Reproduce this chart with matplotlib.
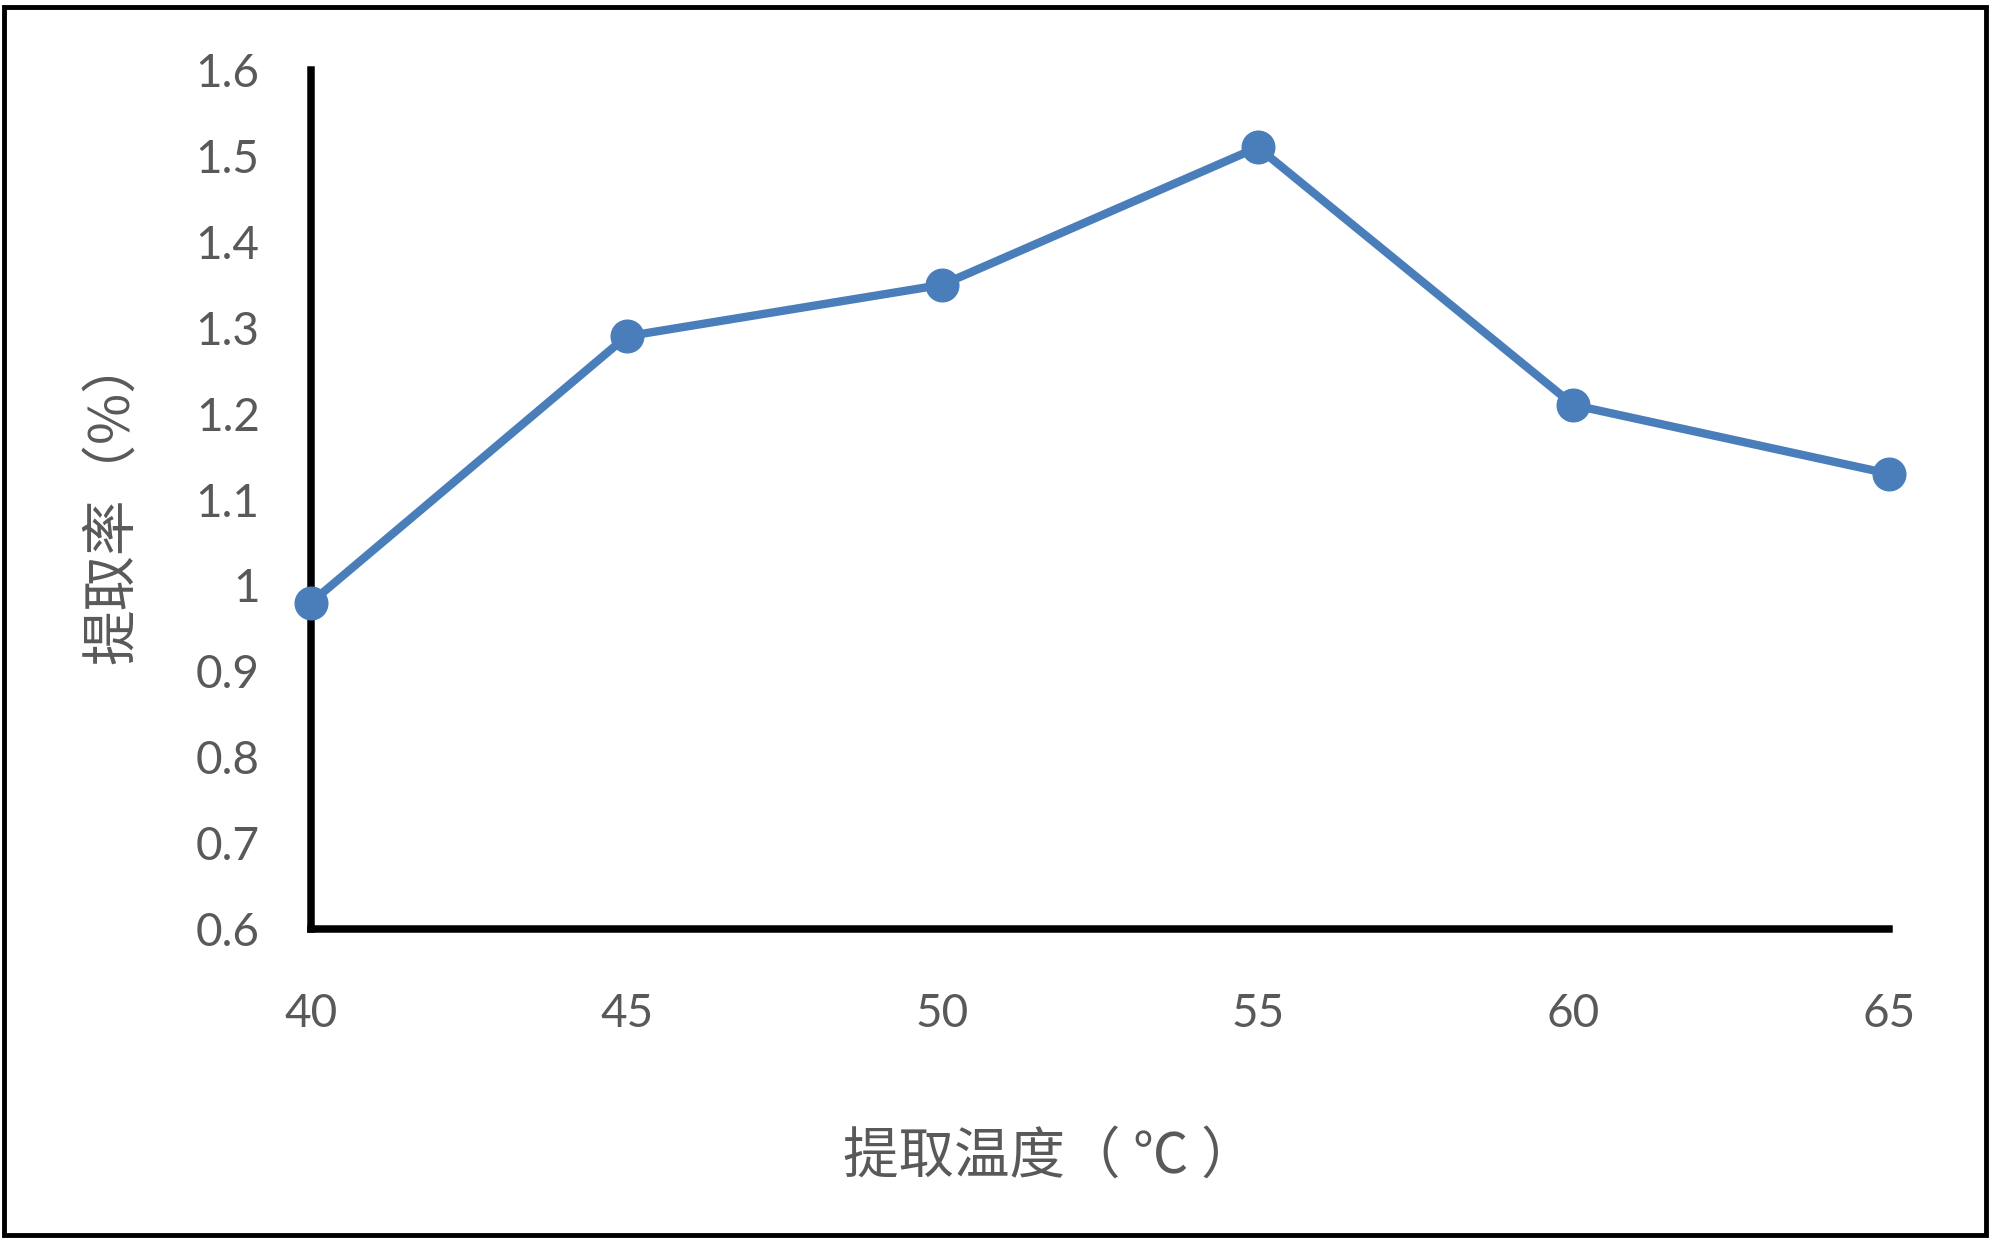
import numpy as np
import matplotlib
matplotlib.use("Agg")
from matplotlib import pyplot as plt
from matplotlib.patches import Rectangle

temps = [40, 45, 50, 55, 60, 65]
rate = [0.98, 1.29, 1.35, 1.51, 1.21, 1.13]
yticks = [0.6, 0.7, 0.8, 0.9, 1.0, 1.1, 1.2, 1.3, 1.4, 1.5, 1.6]
ytick_labels = ["0.6", "0.7", "0.8", "0.9", "1", "1.1", "1.2", "1.3", "1.4", "1.5", "1.6"]

cjk = ["Noto Sans CJK SC", "DejaVu Sans"]
num_font = "Lato"
grey = "#595959"
blue = "#4A7EBB"

fig = plt.figure(figsize=(20, 12.48), dpi=100)
ax = fig.add_axes([0.1555, 0.2556, 0.789, 0.6883])

ax.plot(temps, rate, color=blue, linewidth=6, marker="o", markersize=23.5,
        markerfacecolor=blue, markeredgecolor=blue, clip_on=False, zorder=5)

ax.set_xlim(40, 65)
ax.set_ylim(0.6, 1.6)
ax.set_xticks(temps)
ax.set_xticklabels([str(t) for t in temps])
ax.set_yticks(yticks)
ax.set_yticklabels(ytick_labels)

for s in ["top", "right"]:
    ax.spines[s].set_visible(False)
for s in ["left", "bottom"]:
    ax.spines[s].set_linewidth(5.4)
    ax.spines[s].set_color("black")
    ax.spines[s].set_capstyle("projecting")

ax.tick_params(axis="both", length=0, labelcolor=grey, labelsize=33)
ax.tick_params(axis="x", pad=46)
ax.tick_params(axis="y", pad=37)
for lab in ax.get_xticklabels() + ax.get_yticklabels():
    lab.set_family(num_font)

fig.text(0.525, 0.073, "提取温度（ ℃ ）", family=cjk, fontsize=40, color=grey,
         ha="center", va="center")
fig.text(0.056, 0.60, "提取率（%）", family=cjk, fontsize=40, color=grey,
         ha="center", va="center", rotation=90)

# outer frame around the whole chart
fig.patches.append(Rectangle((0.002, 0.0104), 0.991, 0.984, transform=fig.transFigure,
                             fill=False, edgecolor="black", linewidth=3.5))

plt.savefig("out.png", dpi=100)
